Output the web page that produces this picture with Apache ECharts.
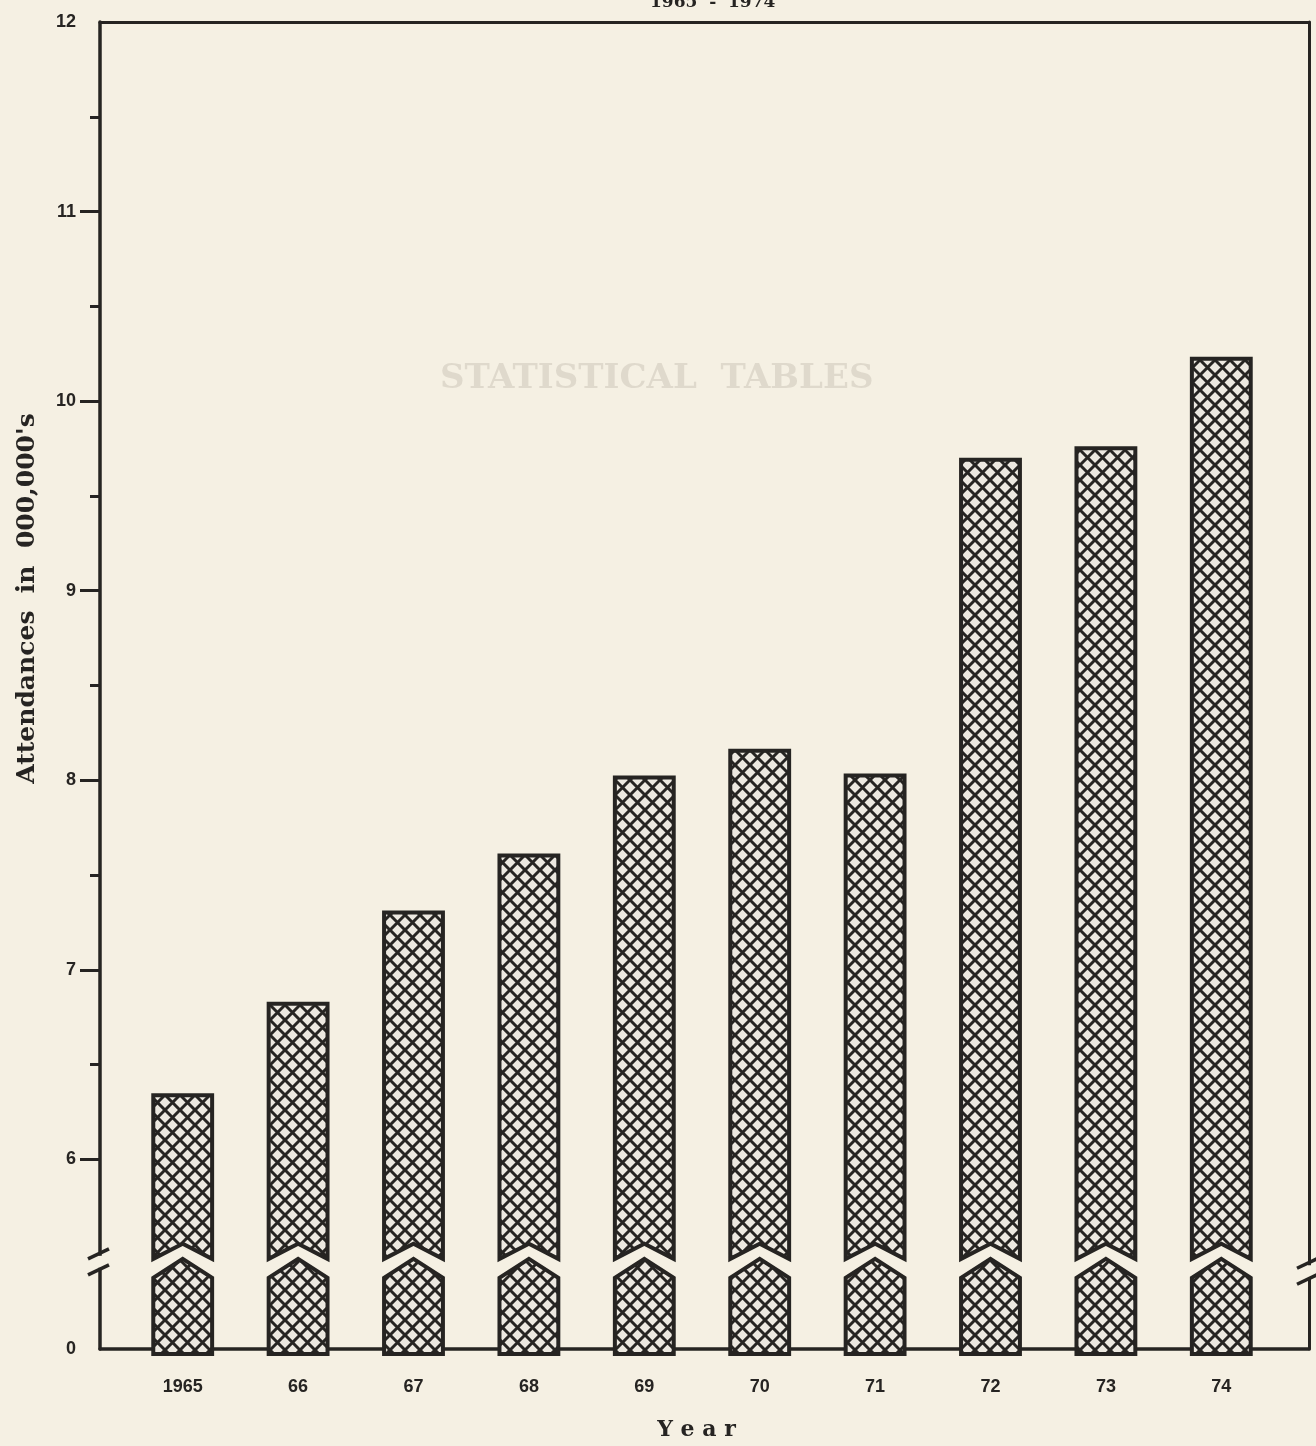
<!DOCTYPE html>
<html>
<head>
<meta charset="utf-8">
<title>Attendances 1965 - 1974</title>
<script src="https://cdn.jsdelivr.net/npm/echarts@6/dist/echarts.min.js"></script>
<style>
html, body { margin: 0; padding: 0; background: #f5f0e3; }
#chart { width: 1316px; height: 1446px; }
</style>
</head>
<body>
<div id="chart"></div>
<script>
// values (attendances in 000,000's)
var years = ['1965', '66', '67', '68', '69', '70', '71', '72', '73', '74'];
var attendances = [6.36, 6.84, 7.32, 7.62, 8.03, 8.17, 8.04, 9.70, 9.76, 10.23];
// y ticks: the bottom of the axis (0) sits where 5 would be, below a break
var yLabelValues = [5, 6, 7, 8, 9, 10, 11, 12];
var yLabelText = ['0', '6', '7', '8', '9', '10', '11', '12'];
var yMajorTicks = [6, 7, 8, 9, 10, 11];
var yMinorTicks = [6.5, 7.5, 8.5, 9.5, 10.5, 11.5];

var INK = '#262422';
var PAPER = '#f5f0e3';
var BASE = 5;

// cross hatch tile for the bars
function hatchTile() {
    var s = 15;
    var c = document.createElement('canvas');
    c.width = s; c.height = s;
    var g = c.getContext('2d');
    g.fillStyle = '#ece8e0';
    g.fillRect(0, 0, s, s);
    g.strokeStyle = INK;
    g.lineWidth = 3;
    g.beginPath();
    for (var k = -1; k <= 1; k++) {
        g.moveTo(k * s, 0); g.lineTo(k * s + s, s);
        g.moveTo(k * s, s); g.lineTo(k * s + s, 0);
    }
    g.stroke();
    return c;
}
var tile = hatchTile();

var chart = echarts.init(document.getElementById('chart'));

function renderBar(params, api) {
    var i = api.value(0);
    var top = api.coord([i, api.value(1)]);
    var cx = top[0];
    var w = api.size([1, 0])[0] * 0.51;
    var x0 = cx - w / 2, x1 = cx + w / 2;
    var yBase = api.coord([i, BASE])[1];
    var yCut = api.coord([i, 5.5])[1];
    var yNotch = api.coord([i, 5.58])[1];
    var yLow = api.coord([i, 5.4])[1];
    var style = {
        fill: { type: 'pattern', image: tile, repeat: 'repeat' },
        stroke: INK,
        lineWidth: 4,
        lineJoin: 'miter'
    };
    return {
        type: 'group',
        children: [
            { type: 'polygon', shape: { points: [[x0, top[1]], [x1, top[1]], [x1, yCut], [cx, yNotch], [x0, yCut]] }, style: style },
            { type: 'polygon', shape: { points: [[x0, yBase], [x0, yLow], [cx, yCut], [x1, yLow], [x1, yBase]] }, style: style }
        ]
    };
}

// gaps and slash marks where the frame is broken
function renderBreaks(params, api) {
    var left = api.coord([0, 5.46]);
    var right = api.coord([1, 5.41]);
    var kids = [];
    [[left[0], left[1]], [right[0], right[1]]].forEach(function (p) {
        kids.push({ type: 'rect', shape: { x: p[0] - 4, y: p[1] - 6, width: 8, height: 12 }, style: { fill: PAPER } });
        kids.push({ type: 'line', shape: { x1: p[0] - 12, y1: p[1] - 3, x2: p[0] + 9, y2: p[1] - 13 }, style: { stroke: INK, lineWidth: 3.5 } });
        kids.push({ type: 'line', shape: { x1: p[0] - 12, y1: p[1] + 13, x2: p[0] + 9, y2: p[1] + 3 }, style: { stroke: INK, lineWidth: 3.5 } });
    });
    return { type: 'group', children: kids };
}

var frameLine = { show: true, onZero: false, lineStyle: { color: INK, width: 3.5 } };
var tickFont = { fontFamily: 'Liberation Sans', fontWeight: 'bold', fontSize: 18, color: INK };

var option = {
    backgroundColor: PAPER,
    animation: false,
    title: {
        text: '1965  -  1974',
        left: 645,
        top: -11,
        textStyle: { fontFamily: 'DejaVu Serif', fontWeight: 'bold', fontSize: 17, color: INK }
    },
    graphic: [{
        type: 'text',
        left: 440,
        top: 362,
        z: -10,
        style: {
            text: 'STATISTICAL  TABLES',
            font: 'bold 34px "DejaVu Serif"',
            fill: 'rgba(110,100,85,0.16)'
        }
    }],
    grid: [
        { left: 100, right: 7, top: 22, bottom: 92 },
        { left: 125, right: 37, top: 22, bottom: 92 }
    ],
    xAxis: [
        {
            gridIndex: 0, type: 'value', min: 0, max: 1,
            axisLine: frameLine, axisTick: { show: false }, axisLabel: { show: false }, splitLine: { show: false },
            name: 'Y e a r', nameLocation: 'middle', nameGap: 70,
            nameTextStyle: { fontFamily: 'DejaVu Serif', fontWeight: 'bold', fontSize: 22, color: INK, padding: [0, 16, 0, 0] }
        },
        {
            gridIndex: 0, type: 'value', min: 0, max: 1, position: 'top',
            axisLine: { show: true, onZero: false, lineStyle: { color: INK, width: 3 } },
            axisTick: { show: false }, axisLabel: { show: false }, splitLine: { show: false }
        },
        {
            gridIndex: 1, type: 'category', data: years,
            axisLine: { show: false }, axisTick: { show: false },
            axisLabel: Object.assign({ margin: 24 }, tickFont)
        }
    ],
    yAxis: [
        {
            gridIndex: 0, type: 'value', min: BASE, max: 12, interval: 1, position: 'left',
            axisLine: frameLine,
            axisTick: { show: true, length: 20, customValues: yMajorTicks, lineStyle: { color: INK, width: 3 } },
            axisLabel: Object.assign({
                margin: 24, customValues: yLabelValues,
                formatter: function (v) { return yLabelText[yLabelValues.indexOf(v)]; }
            }, tickFont),
            splitLine: { show: false },
            name: "Attendances  in  000,000's", nameLocation: 'middle', nameGap: 60, nameRotate: 90,
            nameTextStyle: { fontFamily: 'DejaVu Serif', fontWeight: 'bold', fontSize: 25, color: INK, padding: [0, 0, 0, 174] }
        },
        {
            gridIndex: 0, type: 'value', min: BASE, max: 12, interval: 1, position: 'left',
            axisLine: { show: false },
            axisTick: { show: true, length: 10, customValues: yMinorTicks, lineStyle: { color: INK, width: 3 } },
            axisLabel: { show: false }, splitLine: { show: false }
        },
        {
            gridIndex: 0, type: 'value', min: BASE, max: 12, interval: 1, position: 'right',
            axisLine: { show: true, onZero: false, lineStyle: { color: INK, width: 3 } },
            axisTick: { show: false }, axisLabel: { show: false }, splitLine: { show: false }
        },
        {
            gridIndex: 1, type: 'value', min: BASE, max: 12, interval: 1, show: false
        }
    ],
    series: [
        {
            type: 'custom',
            xAxisIndex: 2, yAxisIndex: 3,
            renderItem: renderBar,
            encode: { x: 0, y: 1 },
            data: years.map(function (y, i) { return [i, attendances[i]]; }),
            z: 3
        },
        {
            type: 'custom',
            xAxisIndex: 0, yAxisIndex: 0,
            renderItem: renderBreaks,
            clip: false,
            data: [[0, BASE]],
            z: 4
        }
    ]
};
chart.setOption(option);
</script>
</body>
</html>
